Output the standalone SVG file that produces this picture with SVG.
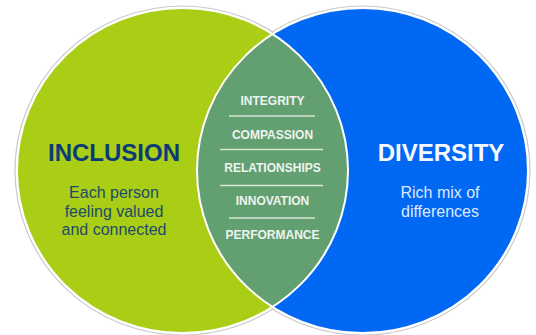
<svg xmlns="http://www.w3.org/2000/svg" width="536" height="335" viewBox="0 0 536 335">
  <style>
    .halo { fill: none; stroke: #c9c9c9; stroke-width: 1.2; }
    .rim { fill: none; stroke: #ffffff; stroke-width: 2; }
    .title { font-family: "Liberation Sans", Arial, sans-serif; font-weight: bold; font-size: 24px; text-anchor: middle; }
    .sub { font-family: "Liberation Sans", Arial, sans-serif; font-size: 16px; text-anchor: middle; }
    .value { font-family: "Liberation Sans", Arial, sans-serif; font-weight: bold; font-size: 12px; text-anchor: middle; fill: #eef4ee; }
    .rule { stroke: #d6e6d6; stroke-width: 1.5; }
  </style>
  <rect width="536" height="335" fill="#ffffff"/>

  <!-- soft grey outlines just outside both circles -->
  <ellipse class="halo" cx="182.5" cy="170.5" rx="167.5" ry="164.5"/>
  <ellipse class="halo" cx="362.5" cy="170.5" rx="167.5" ry="164.5"/>

  <g id="inclusion">
    <ellipse cx="182.5" cy="170.5" rx="165.5" ry="162.5" fill="#aacd16"/>
  </g>

  <g id="diversity">
    <ellipse cx="362.5" cy="170.5" rx="165.5" ry="162.5" fill="#0068f2"/>
  </g>

  <g id="shared-values">
    <path d="M272.5 34.1 A165.5 162.5 0 0 1 272.5 306.9 A165.5 162.5 0 0 1 272.5 34.1 Z" fill="#63a071"/>
  </g>

  <!-- white borders of both circles, including the lens edges -->
  <ellipse class="rim" cx="182.5" cy="170.5" rx="165.5" ry="162.5"/>
  <ellipse class="rim" cx="362.5" cy="170.5" rx="165.5" ry="162.5"/>

  <g id="inclusion-text">
    <text class="title" x="114" y="161" fill="#0b3a79">INCLUSION</text>
    <text class="sub" x="114" y="198" fill="#214a6c">Each person</text>
    <text class="sub" x="114" y="216.5" fill="#214a6c">feeling valued</text>
    <text class="sub" x="114" y="235" fill="#214a6c">and connected</text>
  </g>

  <g id="diversity-text">
    <text class="title" x="441" y="161" fill="#f6f9ff">DIVERSITY</text>
    <text class="sub" x="440" y="198" fill="#dfe9ff">Rich mix of</text>
    <text class="sub" x="440" y="217" fill="#dfe9ff">differences</text>
  </g>

  <g id="shared-values-text">
    <text class="value" x="272.5" y="105">INTEGRITY</text>
    <line class="rule" x1="229" y1="116" x2="315" y2="116"/>
    <text class="value" x="272.5" y="138.5">COMPASSION</text>
    <line class="rule" x1="220" y1="149.5" x2="323" y2="149.5"/>
    <text class="value" x="272.5" y="172">RELATIONSHIPS</text>
    <line class="rule" x1="220" y1="185.5" x2="323" y2="185.5"/>
    <text class="value" x="272.5" y="205">INNOVATION</text>
    <line class="rule" x1="229" y1="218" x2="315" y2="218"/>
    <text class="value" x="272.5" y="238.5">PERFORMANCE</text>
  </g>
</svg>
